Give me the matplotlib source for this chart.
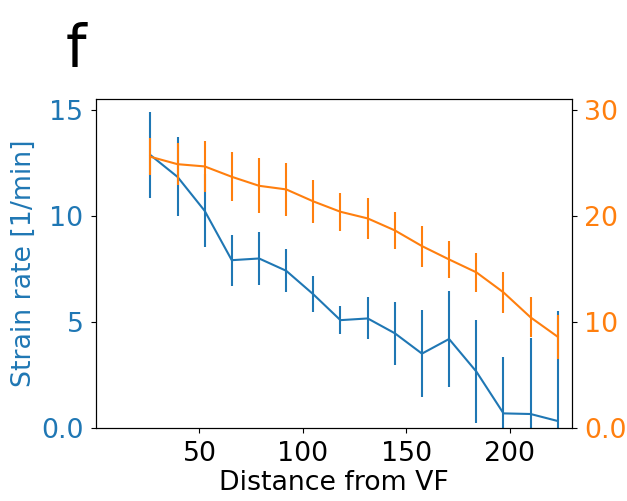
import matplotlib
matplotlib.use("Agg")
import matplotlib.pyplot as plt

distance = [26.3, 39.4, 52.5, 65.6, 78.8, 91.9, 105.0, 118.1,
            131.3, 144.4, 157.5, 170.6, 183.8, 196.9, 210.0, 223.1]
strain = [12.88, 11.85, 10.25, 7.92, 8.0, 7.42, 6.31, 5.09,
          5.17, 4.47, 3.51, 4.20, 2.66, 0.69, 0.66, 0.33]
strain_err = [2.02, 1.86, 1.73, 1.21, 1.23, 1.02, 0.85, 0.65,
              0.99, 1.49, 2.05, 2.27, 2.43, 2.64, 3.60, 5.19]
other = [25.6, 24.9, 24.69, 23.71, 22.86, 22.52, 21.39, 20.41,
         19.78, 18.65, 17.17, 15.91, 14.69, 12.8, 10.44, 8.61]
other_err = [1.73, 2.0, 2.4, 2.3, 2.6, 2.5, 2.05, 1.8,
             1.97, 1.78, 1.93, 1.73, 1.81, 1.9, 1.88, 2.07]

left_ticks = [0, 5, 10, 15]
left_labels = ["0.0", "5", "10", "15"]
right_ticks = [0, 10, 20, 30]
right_labels = ["0.0", "10", "20", "30"]
x_ticks = [50, 100, 150, 200]

blue = "#1f77b4"
orange = "#ff7f0e"
fs = 19.3

fig = plt.figure(figsize=(6.27, 5.01), dpi=100)
ax = fig.add_axes([96/627, 1 - 428/501, (572-96)/627, (428-98.5)/501])
ax.errorbar(distance, strain, yerr=strain_err, color=blue, lw=1.5)
ax.set_xlim(0, 230)
ax.set_ylim(0, 15.55)
ax.set_yticks(left_ticks)
ax.set_yticklabels(left_labels)
ax.set_xticks(x_ticks)
ax.tick_params(axis="y", labelcolor=blue, labelsize=fs, pad=5.5)
ax.tick_params(axis="x", labelsize=fs, pad=6.2)
ax.set_ylabel("Strain rate [1/min]", color=blue, fontsize=fs, labelpad=3)
ax.set_xlabel("Distance from VF", fontsize=fs, labelpad=2)

ax2 = ax.twinx()
ax2.errorbar(distance, other, yerr=other_err, color=orange, lw=1.5)
ax2.set_ylim(0, 31.1)
ax2.set_yticks(right_ticks)
ax2.set_yticklabels(right_labels)
ax2.tick_params(axis="y", labelcolor=orange, labelsize=fs, pad=5.0)

fig.text(66/627, 1 - 66/501, "f", fontsize=42, ha="left", va="baseline")

fig.savefig("out.png", dpi=100)
